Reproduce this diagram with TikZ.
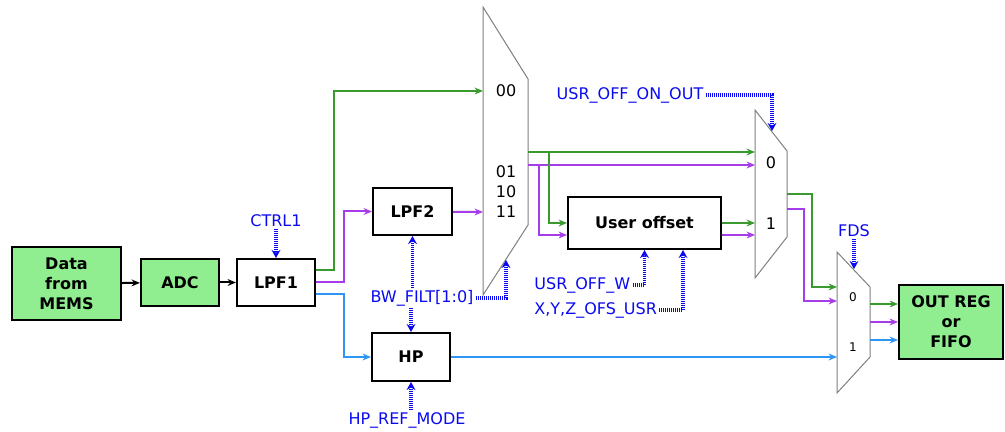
\documentclass[tikz,border=0pt]{standalone}
\usepackage{fontspec}
\setmainfont{DejaVu Sans}
\usetikzlibrary{arrows.meta}
\definecolor{boxgreen}{HTML}{90EE90}
\definecolor{sigA}{HTML}{3A9A2E}
\definecolor{sigB}{HTML}{A63DE8}
\definecolor{sigC}{HTML}{2E95F5}
\definecolor{ctrlblue}{HTML}{0A0AF0}

\begin{document}
\begin{tikzpicture}[x=0.5pt, y=-0.5pt, >={Stealth[length=4.2pt,width=3.4pt]},
    every node/.style={font=\fontsize{8}{10}\selectfont},
    blk/.style={draw, line width=1pt, inner sep=0pt, align=center, font=\bfseries\fontsize{8}{10}\selectfont},
    mux/.style={draw=gray, line width=0.5pt, fill=white},
    sig/.style={line width=1pt, ->},
    ctl/.style={ctrlblue, line width=1.7pt, dash pattern=on 0.5pt off 0.5pt, -{Stealth[length=4pt,width=4.4pt]}},
    lbl/.style={text=ctrlblue, inner sep=1pt}]
    \useasboundingbox (0,0) rectangle (1005,432);

    % blocks
    \node[blk, fill=boxgreen, minimum width=54.5pt, minimum height=36.5pt] (mems) at (66.5,283.5) {Data\\from\\MEMS};
    \node[blk, fill=boxgreen, minimum width=39pt, minimum height=23.5pt] (adc) at (180,282.5) {ADC};
    \node[blk, fill=white, minimum width=39pt, minimum height=23.5pt] (lpf1) at (276,282.5) {LPF1};
    \node[blk, fill=white, minimum width=39.5pt, minimum height=23.5pt] (lpf2) at (412.5,211.5) {LPF2};
    \node[blk, fill=white, minimum width=39pt, minimum height=24pt] (hp) at (411,357) {HP};
    \node[blk, fill=white, minimum width=76.5pt, minimum height=26pt] (uo) at (644.5,223) {User offset};
    \node[blk, fill=boxgreen, minimum width=52pt, minimum height=37pt] (out) at (951,322) {OUT REG\\or\\FIFO};

    % multiplexers
    \draw[mux] (483,7) -- (528,79) -- (528,225) -- (483,295) -- cycle;
    \draw[mux] (755,110) -- (787,151) -- (787,237) -- (755,278) -- cycle;
    \draw[mux] (837,252) -- (870,287) -- (870,357) -- (837,393) -- cycle;
    \node (m1l0) at (506,91) {00};
    \node[align=center, font=\fontsize{8}{10}\selectfont] (m1l1) at (506,192) {01\\10\\11};
    \node (m2l0) at (771,163) {0};
    \node (m2l1) at (771,224) {1};
    \node[font=\fontsize{6}{7}\selectfont] (m3l0) at (853,297) {0};
    \node[font=\fontsize{6}{7}\selectfont] (m3l1) at (853,347) {1};

    % mux ports
    \coordinate (m1a) at (483,91);
    \coordinate (m1d) at (483,212);
    \coordinate (m1o1) at (528,152);
    \coordinate (m1o2) at (528,165);
    \coordinate (m1s) at (506,260);
    \coordinate (m2a) at (755,152);
    \coordinate (m2b) at (755,165);
    \coordinate (m2o1) at (787,194);
    \coordinate (m2o2) at (787,209);
    \coordinate (m2s) at (772,131);
    \coordinate (m3a) at (837,287);
    \coordinate (m3b) at (837,301);
    \coordinate (m3c) at (837,357);
    \coordinate (m3o1) at (870,304);
    \coordinate (m3o2) at (870,322);
    \coordinate (m3o3) at (870,340);
    \coordinate (m3s) at (854,269);

    % data path
    \draw[sig] (mems) -- (adc);
    \draw[sig] (adc) -- (lpf1);
    \draw[sig, sigA] ([yshift=6.25pt]lpf1.east) -- ++(18,0) |- (m1a);
    \draw[sig, sigB] (lpf1.east) -- ++(28,0) |- (lpf2.west);
    \draw[sig, sigC] ([yshift=-5.75pt]lpf1.east) -- ++(28,0) |- (hp.west);
    \draw[sig, sigB] (lpf2) -- (m1d);
    \draw[sig, sigA] (m1o1) -- (m2a);
    \draw[sig, sigB] (m1o2) -- (m2b);
    \draw[sig, sigA] (m1o1) -- ++(21,0) |- (uo.west);
    \draw[sig, sigB] (m1o2) -- ++(11,0) |- ([yshift=-6pt]uo.west);
    \draw[sig, sigA] (uo.east) -- (uo.east -| m2a);
    \draw[sig, sigB] ([yshift=-6pt]uo.east) -- ([yshift=-6pt]uo.east -| m2a);
    \draw[sig, sigA] (m2o1) -- ++(25,0) |- (m3a);
    \draw[sig, sigB] (m2o2) -- ++(17,0) |- (m3b);
    \draw[sig, sigC] (hp) -- (m3c);
    \draw[sig, sigA] (m3o1) -- (m3o1 -| out.west);
    \draw[sig, sigB] (m3o2) -- (m3o2 -| out.west);
    \draw[sig, sigC] (m3o3) -- (m3o3 -| out.west);

    % control signals
    \node[lbl] (ctrl1) at (276,221) {CTRL1};
    \node[lbl] (bw) at (422,298) {BW\_FILT[1:0]};
    \node[lbl] (usron) at (630,95) {USR\_OFF\_ON\_OUT};
    \node[lbl, anchor=west] (usrw) at (532,285) {USR\_OFF\_W};
    \node[lbl, anchor=west] (xyz) at (532,310) {X,Y,Z\_OFS\_USR};
    \node[lbl] (fds) at (854,231) {FDS};
    \node[lbl] (hpref) at (407,420) {HP\_REF\_MODE};
    \draw[ctl] (ctrl1) -- (lpf1);
    \draw[ctl] (lpf2.south |- bw.north) -- (lpf2.south);
    \draw[ctl] (hp.north |- bw.south) -- (hp.north);
    \draw[ctl] (bw.east) -| (m1s);
    \draw[ctl] (usron.east) -| (m2s);
    \draw[ctl] (usrw.east) -| (uo.south);
    \draw[ctl] (xyz.east) -| ([xshift=19.25pt]uo.south);
    \draw[ctl] (fds) -- (m3s);
    \draw[ctl] (hp.south |- hpref.north) -- (hp.south);
\end{tikzpicture}
\end{document}
